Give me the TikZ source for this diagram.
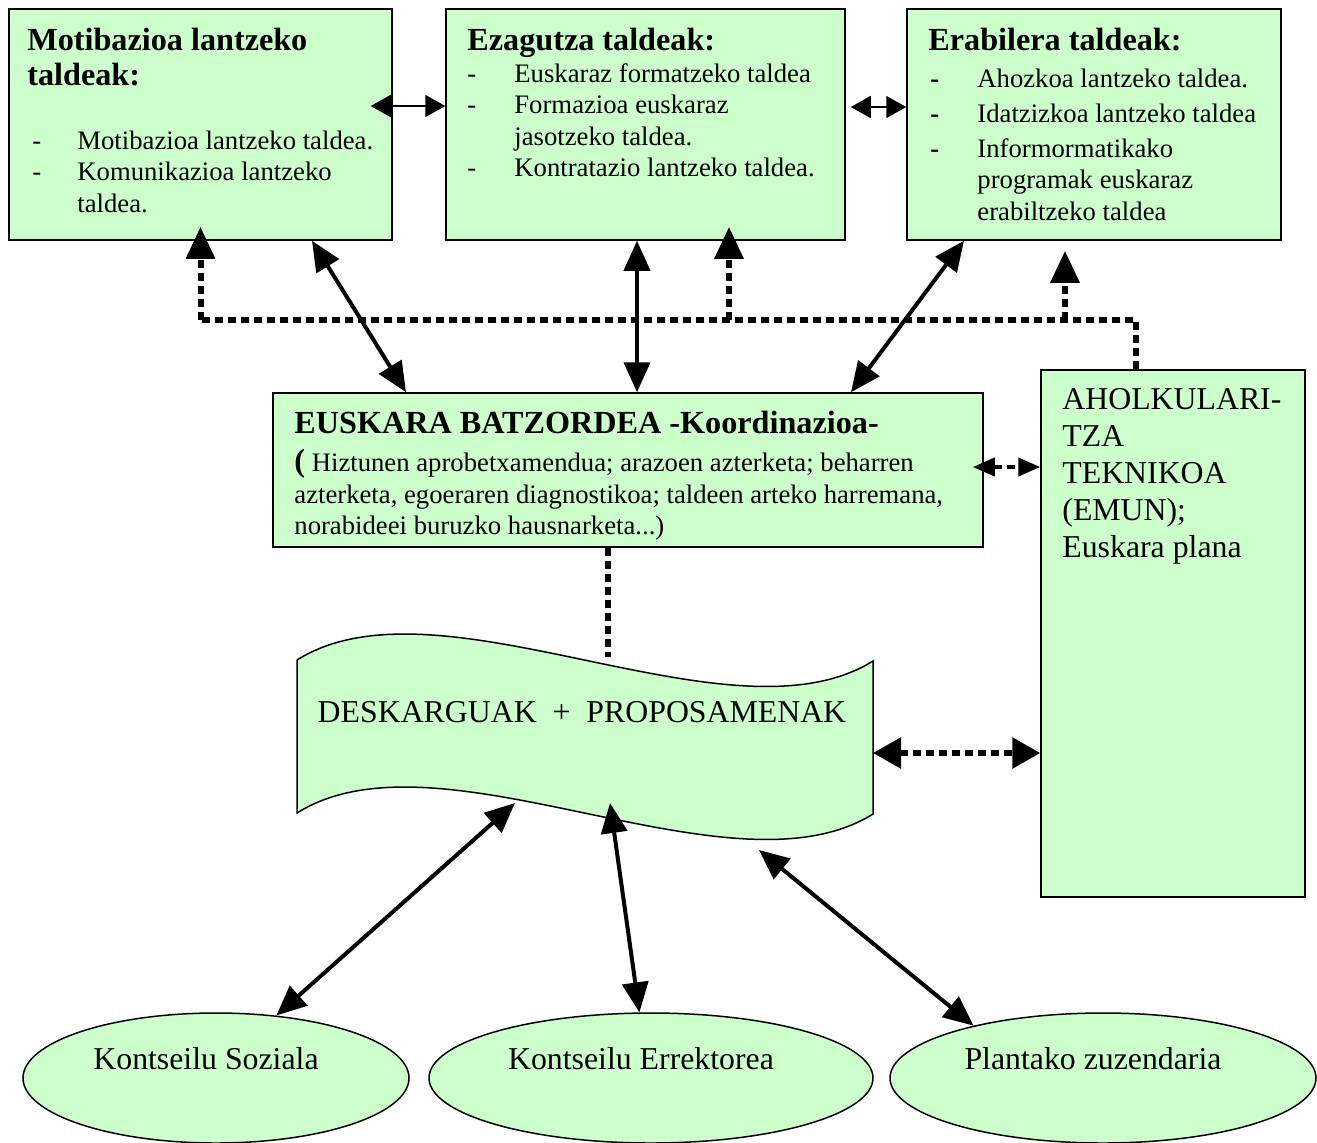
\documentclass[tikz,border=0pt]{standalone}
\usepackage{fontspec}
\setmainfont{Liberation Serif}
\usetikzlibrary{arrows.meta,fit,shapes.geometric}

\definecolor{mint}{HTML}{CCFFCC}
\newcommand\headfont{\bfseries\fontsize{16.1}{17.5}\selectfont}
\newcommand\bodyfont{\fontsize{13.35}{15.75}\selectfont}
\newcommand\bigfont{\fontsize{15.9}{18.5}\selectfont}

\begin{document}
\begin{tikzpicture}[x=0.5pt, y=-0.5pt,
        box/.style={draw, line width=0.75pt, fill=mint, inner sep=0pt},
        oval/.style={ellipse, draw, line width=0.75pt, fill=mint, inner sep=0pt, minimum height=65pt},
        head/.style={anchor=north west, inner sep=0pt, font=\headfont},
        body/.style={anchor=north west, inner sep=0pt, font=\bodyfont},
        lbl/.style={inner sep=0pt, font=\bigfont, yshift=9.5pt, xshift=-5pt},
        slim/.style={>={Triangle[length=10pt,width=11pt]}, <->, line width=0.9pt},
        duo/.style={>={Triangle[length=15pt,width=13pt]}, <->, line width=2pt},
        dots/.style={line width=3pt, dash pattern=on 4pt off 2.5pt},
        up/.style={dots, >={Triangle[length=16pt,width=14pt]}, ->}]

    \useasboundingbox (0,0) rectangle (1317,1142);

    % groups on top
    \node[box, fit={(9,9) (392,240)}] (mot) {};
    \node[box, fit={(446,9) (845,240)}] (eza) {};
    \node[box, fit={(907,9) (1281,240)}] (era) {};
    \node[head] at (27,25.5) {\begin{tabular}{@{}l@{}}Motibazioa lantzeko\\taldeak:\end{tabular}};
    \node[body] at (32,127) {\begin{tabular}{@{}p{22.5pt}@{}l@{}}
        -&Motibazioa lantzeko taldea.\\
        -&Komunikazioa lantzeko\\
        &taldea.\end{tabular}};
    \node[head] at (467,25.5) {\begin{tabular}{@{}l@{}}Ezagutza taldeak:\end{tabular}};
    \node[body] at (467,60) {\begin{tabular}{@{}p{23.5pt}@{}l@{}}
        -&Euskaraz formatzeko taldea\\
        -&Formazioa euskaraz\\
        &jasotzeko taldea.\\
        -&Kontratazio lantzeko taldea.\end{tabular}};
    \node[head] at (928,25.5) {\begin{tabular}{@{}l@{}}Erabilera taldeak:\end{tabular}};
    \node[body] at (930,65) {\begin{tabular}{@{}p{23.5pt}@{}l@{}}
        \textbf{-}&Ahozkoa lantzeko taldea.\\[1.75pt]
        \textbf{-}&Idatzizkoa lantzeko taldea\\[1.75pt]
        \textbf{-}&Informormatikako\\
        &programak euskaraz\\
        &erabiltzeko taldea\end{tabular}};

    % coordination and advice
    \node[box, fit={(273,393) (983,547)}] (bat) {};
    \node[head] at (294,408.5) {\begin{tabular}{@{}l@{}}EUSKARA BATZORDEA -Koordinazioa-\end{tabular}};
    \node[body] at (294,449) {\begin{tabular}{@{}l@{}}
        {\headfont(} Hiztunen aprobetxamendua; arazoen azterketa; beharren\\
        azterketa, egoeraren diagnostikoa; taldeen arteko harremana,\\
        norabideei buruzko hausnarketa...)\end{tabular}};
    \node[box, fit={(1041,370) (1305,897)}] (ahol) {};
    \node[anchor=north west, inner sep=0pt, font=\bigfont] at (1062,383) {\begin{tabular}{@{}l@{}}
        AHOLKULARI-\\TZA\\TEKNIKOA\\(EMUN);\\Euskara plana\end{tabular}};

    % wavy sheet
    \filldraw[line width=0.75pt, fill=mint] (297,660) .. controls (440,570) and (730,750) .. (873,661)
        -- (873,814) .. controls (730,903) and (440,723) .. (297,813) -- cycle;
    \node[anchor=base, inner sep=0pt, font=\bigfont] (desk) at (582,722) {DESKARGUAK\ \ +\ \ PROPOSAMENAK};
    \coordinate (wave-n) at (608,657);
    \coordinate (wave-e) at (873,753);
    \coordinate (wave-s1) at (515,803);
    \coordinate (wave-s2) at (610,803);
    \coordinate (wave-s3) at (759,850);

    % councils
    \node[oval, minimum width=193pt, label={[lbl]center:Kontseilu Soziala}] (soz) at (216,1078) {};
    \node[oval, minimum width=222pt, label={[lbl]center:Kontseilu Errektorea}] (ker) at (651,1078) {};
    \node[oval, minimum width=213pt, label={[lbl]center:Plantako zuzendaria}] (pla) at (1103,1078) {};

    % links
    \draw[slim, shorten <=-11pt] (mot.east |- 0,106) -- (eza.west |- 0,106);
    \draw[slim, shorten <=2.5pt] (eza.east |- 0,107) -- (era.west |- 0,107);
    \draw[duo] (312,0 |- mot.south) -- (406,0 |- bat.north);
    \draw[duo] (637,0 |- eza.south) -- (637,0 |- bat.north);
    \draw[duo] (964,0 |- era.south) -- (851,0 |- bat.north);

    \coordinate (rail) at (0,320);
    \draw[dots] (1136,0 |- ahol.north) |- (mot.south |- rail);
    \draw[up, shorten >=-7pt] (mot.south |- rail) -- (mot.south);
    \draw[up, shorten >=-7pt] (729,0 |- rail) -- (729,0 |- eza.south);
    \draw[up, shorten >=5pt] (1065,0 |- rail) -- (1065,0 |- era.south);

    \draw[dots, line width=2pt, >={Triangle[length=11pt,width=9pt]}, <->, shorten <=-5.5pt]
        (bat.east |- 0,467) -- (ahol.west |- 0,467);
    \draw[dots] (608,0 |- bat.south) -- (wave-n);
    \draw[dots, >={Triangle[length=14pt,width=15pt]}, <->] (wave-e) -- (ahol.west |- wave-e);

    \draw[duo] (wave-s1) -- (soz.46);
    \draw[duo] (wave-s2) -- (ker.100);
    \draw[duo] (wave-s3) -- (pla.158);
\end{tikzpicture}
\end{document}
